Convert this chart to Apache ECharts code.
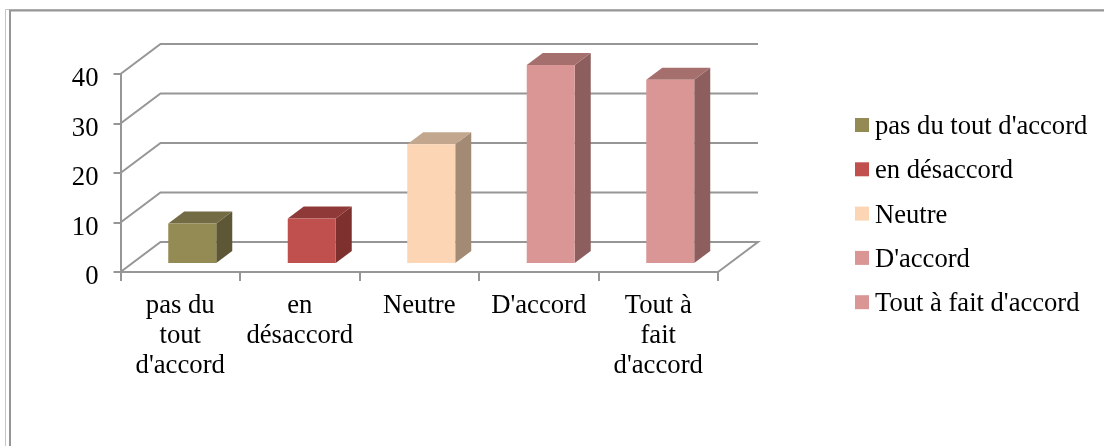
<!DOCTYPE html>
<html>
<head>
<meta charset="utf-8">
<style>
  html, body { margin: 0; padding: 0; background: #fff; }
  #chart { width: 1104px; height: 446px; }
</style>
<script src="https://cdn.jsdelivr.net/npm/echarts@6/dist/echarts.min.js"></script>
</head>
<body>
<div id="chart"></div>
<script>
// Survey answers, one column per response level
const responseNames = ["pas du tout d'accord", "en désaccord", "Neutre", "D'accord", "Tout à fait d'accord"];
const tickLabels = ["pas du\ntout\nd'accord", "en\ndésaccord", "Neutre", "D'accord", "Tout à\nfait\nd'accord"];
const responseValues = [8, 9, 24, 40, 37];
const yTicks = [0, 10, 20, 30, 40];
const frontColors = ['#948A54', '#C0504D', '#FCD5B5', '#D99694', '#D99694'];
const sideColors = ['#5E5735', '#7D302E', '#A38A74', '#8C5F5E', '#8C5F5E'];
const topColors = ['#736B43', '#8F3A38', '#C2A68D', '#A56F6D', '#A56F6D'];

// Oblique projection of the chart box
const WALL_DX = 40, WALL_DY = -30;
const BAR_DX = 16, BAR_DY = -12;
const BAR_SHIFT_X = 12, BAR_SHIFT_Y = -9;
const BAR_WIDTH = 48;
const LINE_COLOR = '#969696';
const SERIF = '"Liberation Serif", "Times New Roman", serif';

const lineStyle = { stroke: LINE_COLOR, lineWidth: 2, fill: null };

// Back wall gridlines, left wall diagonals, and the floor outline
function renderWall(params, api) {
  const value = api.value(0);
  const halfBand = api.size([1, 0])[0] / 2;
  const first = api.coord([0, value]);
  const last = api.coord([responseValues.length - 1, value]);
  const x0 = first[0] - halfBand;
  const x1 = last[0] + halfBand;
  const y = first[1];
  const points = [[x0, y], [x0 + WALL_DX, y + WALL_DY], [x1 + WALL_DX, y + WALL_DY]];
  if (value === 0) points.push([x1, y]);
  return { type: 'polyline', shape: { points }, style: lineStyle, silent: true };
}

// A column as three faces: side, top, then front
function renderColumn(params, api) {
  const idx = api.value(0);
  const base = api.coord([idx, 0]);
  const head = api.coord([idx, api.value(1)]);
  const left = base[0] + BAR_SHIFT_X - BAR_WIDTH / 2;
  const right = left + BAR_WIDTH;
  const bottom = base[1] + BAR_SHIFT_Y;
  const top = head[1] + BAR_SHIFT_Y;
  const poly = (points, fill) => ({ type: 'polygon', shape: { points }, style: { fill, stroke: null } });
  return {
    type: 'group',
    children: [
      poly([[right, top], [right + BAR_DX, top + BAR_DY], [right + BAR_DX, bottom + BAR_DY], [right, bottom]], sideColors[idx]),
      poly([[left, top], [left + BAR_DX, top + BAR_DY], [right + BAR_DX, top + BAR_DY], [right, top]], topColors[idx]),
      poly([[left, top], [right, top], [right, bottom], [left, bottom]], frontColors[idx])
    ]
  };
}

const wallSeries = {
  type: 'custom',
  name: 'wall',
  data: yTicks.map(v => [v]),
  encode: { y: 0 },
  renderItem: renderWall,
  clip: false,
  silent: true,
  z: 1
};

const columnSeries = responseNames.map((name, i) => ({
  type: 'custom',
  name,
  data: [[i, responseValues[i]]],
  encode: { x: 0, y: 1 },
  renderItem: renderColumn,
  clip: false,
  itemStyle: { color: frontColors[i] },
  z: 3
}));

const chart = echarts.init(document.getElementById('chart'), null, { renderer: 'canvas' });
chart.setOption({
  animation: false,
  backgroundColor: '#ffffff',
  grid: { left: 120.5, top: 74, width: 597.5, height: 198, containLabel: false },
  xAxis: {
    type: 'category',
    data: tickLabels,
    boundaryGap: true,
    axisLine: { show: true, lineStyle: { color: LINE_COLOR, width: 2 } },
    axisTick: { show: true, alignWithLabel: false, length: 9, lineStyle: { color: LINE_COLOR, width: 2 } },
    axisLabel: {
      interval: 0, margin: 19, color: '#000', fontFamily: SERIF, fontSize: 26.7, lineHeight: 30
    },
    splitLine: { show: false }
  },
  yAxis: {
    type: 'value',
    min: 0,
    max: 40,
    interval: 10,
    axisLine: { show: true, lineStyle: { color: LINE_COLOR, width: 2 } },
    axisTick: { show: true, length: 7, lineStyle: { color: LINE_COLOR, width: 2 } },
    axisLabel: {
      margin: 22,
      formatter: '{t|{value}}',
      rich: { t: { color: '#000', fontFamily: SERIF, fontSize: 26.7, lineHeight: 30, padding: [10, 0, 0, 0] } }
    },
    splitLine: { show: false }
  },
  legend: {
    left: 855,
    top: 109.5,
    padding: 0,
    orient: 'vertical',
    data: responseNames,
    icon: 'rect',
    itemWidth: 14,
    itemHeight: 14,
    itemGap: 13.3,
    selectedMode: false,
    formatter: '{t|{name}}',
    textStyle: {
      rich: { t: { color: '#000', fontFamily: SERIF, fontSize: 26.6, lineHeight: 30, padding: [4, 0, 0, 1] } }
    }
  },
  tooltip: { show: false },
  series: [wallSeries].concat(columnSeries),
  // Page frame: a thin outer rule and a heavier inner rule
  graphic: [
    { type: 'polyline', z: 0, silent: true, shape: { points: [[5.5, 446], [5.5, 9.5], [1104, 9.5]] }, style: { stroke: '#c4c4c4', lineWidth: 1, fill: null } },
    { type: 'polyline', z: 0, silent: true, shape: { points: [[10, 446], [10, 10.5], [1104, 10.5]] }, style: { stroke: '#969696', lineWidth: 2, fill: null } }
  ]
});
</script>
</body>
</html>
